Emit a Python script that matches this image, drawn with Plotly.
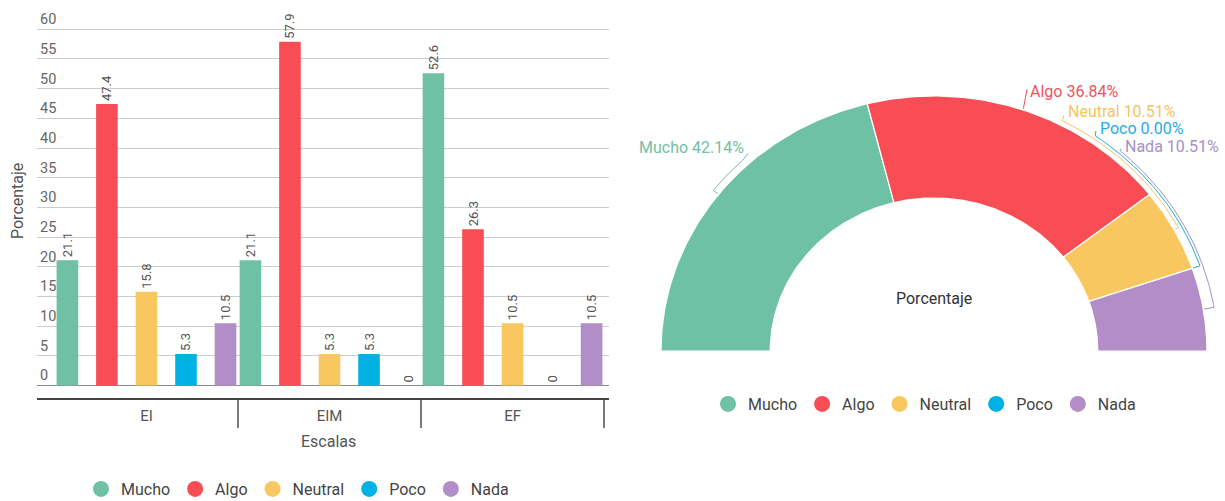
import math
import plotly.graph_objects as go

# ---- data ----
categories = ["EI", "EIM", "EF"]
series_names = ["Mucho", "Algo", "Neutral", "Poco", "Nada"]
mucho = [21.1, 21.1, 52.6]
algo = [47.4, 57.9, 26.3]
neutral = [15.8, 5.3, 10.5]
poco = [5.3, 5.3, 0]
nada = [10.5, 0, 10.5]
bar_series = [mucho, algo, neutral, poco, nada]

share_values = [42.14, 36.84, 10.51, 0.00, 10.51]

# ---- styles ----
colors = ["#6FC1A5", "#F84D54", "#F9C75F", "#00B2E4", "#B28DC8"]
label_colors = ["#74C0A4", "#F0525B", "#F3C465", "#1FADDF", "#A790C6"]
FONT = "Roboto"
W, H = 1225, 501


def px_x(p):
    return p / W


def px_y(p):
    return 1 - p / H


fig = go.Figure()

# ---- grouped bars ----
bar_width = 0.118
pitch = 0.216
for i, (name, vals) in enumerate(zip(series_names, bar_series)):
    fig.add_trace(go.Bar(
        x=categories, y=vals, name=name,
        marker=dict(color=colors[i], line=dict(width=0)),
        width=bar_width, offset=(i - 2) * pitch - bar_width / 2,
        text=[f"{v:g}" for v in vals], textposition="outside", textangle=-90,
        textfont=dict(family=FONT, size=13, color="#555555"),
        constraintext="none", cliponaxis=False,
        showlegend=False, hoverinfo="skip",
        xaxis="x", yaxis="y",
    ))

# ---- half donut (elliptical, drawn on its own axes) ----
R_OUT, R_IN = 1.0, 0.6


def angle_at(cum):
    # angle in degrees, sweeping from the left (180) to the right (0)
    return 180.0 - 180.0 * cum / 100.0


def arc(r, a0, a1, n=120):
    xs, ys = [], []
    for k in range(n + 1):
        a = math.radians(a0 + (a1 - a0) * k / n)
        xs.append(r * math.cos(a))
        ys.append(r * math.sin(a))
    return xs, ys


cum = 0.0
mids = []
for i, (name, v) in enumerate(zip(series_names, share_values)):
    a0, a1 = angle_at(cum), angle_at(cum + v)
    mids.append(angle_at(cum + v / 2))
    if v > 0:
        ox, oy = arc(R_OUT, a0, a1)
        ix, iy = arc(R_IN, a1, a0)
        fig.add_trace(go.Scatter(
            x=ox + ix + [ox[0]], y=oy + iy + [oy[0]],
            mode="lines", fill="toself", fillcolor=colors[i],
            line=dict(color="white", width=1.2),
            showlegend=False, hoverinfo="skip",
            xaxis="x2", yaxis="y2",
        ))
    cum += v

# callout layout: (leader radius, leader end angle,
# leader end x, leader end y, label x, label y, xanchor)
callouts = [
    (1.025, 133.0, -0.681, 0.776, -0.690, 0.800, "right"),
    (None, None, 0.341, 1.027, 0.345, 1.016, "left"),
    (1.018, 62.5, 0.476, 0.925, 0.484, 0.941, "left"),
    (1.030, 55.0, 0.593, 0.863, 0.601, 0.873, "left"),
    (1.040, 49.0, 0.685, 0.792, 0.692, 0.802, "left"),
]

annotations = []
for i, (name, v) in enumerate(zip(series_names, share_values)):
    rl, al, lx, ly, tx, ty, anchor = callouts[i]
    m = mids[i]
    if rl is None:
        xs = [1.005 * math.cos(math.radians(m)), lx]
        ys = [1.005 * math.sin(math.radians(m)), ly]
    else:
        xs = [1.003 * math.cos(math.radians(m))]
        ys = [1.003 * math.sin(math.radians(m))]
        axs, ays = arc(rl, m, al, n=60)
        xs += axs + [lx]
        ys += ays + [ly]
    fig.add_trace(go.Scatter(
        x=xs, y=ys, mode="lines", line=dict(color=label_colors[i], width=1),
        showlegend=False, hoverinfo="skip", cliponaxis=False,
        xaxis="x2", yaxis="y2",
    ))
    annotations.append(dict(
        x=tx, y=ty, xref="x2", yref="y2", xanchor=anchor, yanchor="middle",
        text=f"{name} {v:.2f}%", showarrow=False,
        font=dict(family=FONT, size=16, color=label_colors[i]),
    ))

annotations.append(dict(
    x=0, y=0.204, xref="x2", yref="y2", text="Porcentaje", showarrow=False,
    xanchor="center", yanchor="middle",
    font=dict(family=FONT, size=16, color="#333333"),
))
annotations.append(dict(
    x=px_x(18), y=px_y(201), xref="paper", yref="paper", text="Porcentaje",
    textangle=-90, showarrow=False, xanchor="center", yanchor="middle",
    font=dict(family=FONT, size=16, color="#555555"),
))
annotations.append(dict(
    x=px_x(328), y=px_y(441), xref="paper", yref="paper", text="Escalas",
    showarrow=False, xanchor="center", yanchor="middle",
    font=dict(family=FONT, size=16, color="#555555"),
))

# ---- legend entries (one set per chart) ----
for legend_id in ("legend", "legend2"):
    for i, name in enumerate(series_names):
        fig.add_trace(go.Scatter(
            x=[None], y=[None], mode="markers", name=name,
            marker=dict(color=colors[i], size=18, symbol="circle"),
            legend=legend_id, showlegend=True, hoverinfo="skip",
            xaxis="x", yaxis="y",
        ))

# ---- axes geometry ----
ppu = (385.5 - 29.3) / 60.0
y_lo, y_hi = -2.1, 64.0
y_top_px = 385.5 - y_hi * ppu
y_bot_px = 385.5 - y_lo * ppu

cx, cy, rx, ry = 934.0, 351.0, 273.0, 255.0

legend_common = dict(
    orientation="h", xanchor="left", yanchor="middle",
    font=dict(family=FONT, size=16, color="#444444"),
    bgcolor="rgba(0,0,0,0)", itemclick=False, itemdoubleclick=False,
)

fig.update_layout(
    width=W, height=H, autosize=False,
    margin=dict(l=0, r=0, t=0, b=0, pad=0, autoexpand=False),
    paper_bgcolor="white", plot_bgcolor="white",
    font=dict(family=FONT, color="#555555"),
    barmode="overlay",
    showlegend=True,
    xaxis=dict(
        domain=[px_x(37), px_x(609)], range=[-0.598, 2.527],
        type="category", tickson="boundaries", ticks="outside",
        ticklen=28, tickwidth=2, tickcolor="#7A7A7A",
        showline=True, linecolor="#444444", linewidth=2,
        showgrid=False, zeroline=False, fixedrange=True,
        tickfont=dict(family=FONT, size=15, color="#555555"),
        ticklabelstandoff=3, anchor="y",
    ),
    yaxis=dict(
        domain=[px_y(y_bot_px), px_y(y_top_px)], range=[y_lo, y_hi],
        tick0=0, dtick=5, showgrid=True, gridcolor="#CCCCCC", gridwidth=1,
        zeroline=True, zerolinecolor="#8A8A8A", zerolinewidth=1,
        ticks="", showline=False, ticklabelposition="inside top",
        tickfont=dict(family=FONT, size=14.5, color="#666666"),
        fixedrange=True, anchor="x",
    ),
    xaxis2=dict(
        domain=[px_x(620), 1.0],
        range=[(620 - cx) / rx, (W - cx) / rx],
        visible=False, fixedrange=True, anchor="y2",
    ),
    yaxis2=dict(
        domain=[px_y(450), px_y(40)],
        range=[(cy - 450) / ry, (cy - 40) / ry],
        visible=False, fixedrange=True, anchor="x2",
    ),
    legend=dict(x=px_x(81), y=px_y(489), **legend_common),
    legend2=dict(x=px_x(708), y=px_y(404), **legend_common),
    annotations=annotations,
)

fig.write_html("out.html")
